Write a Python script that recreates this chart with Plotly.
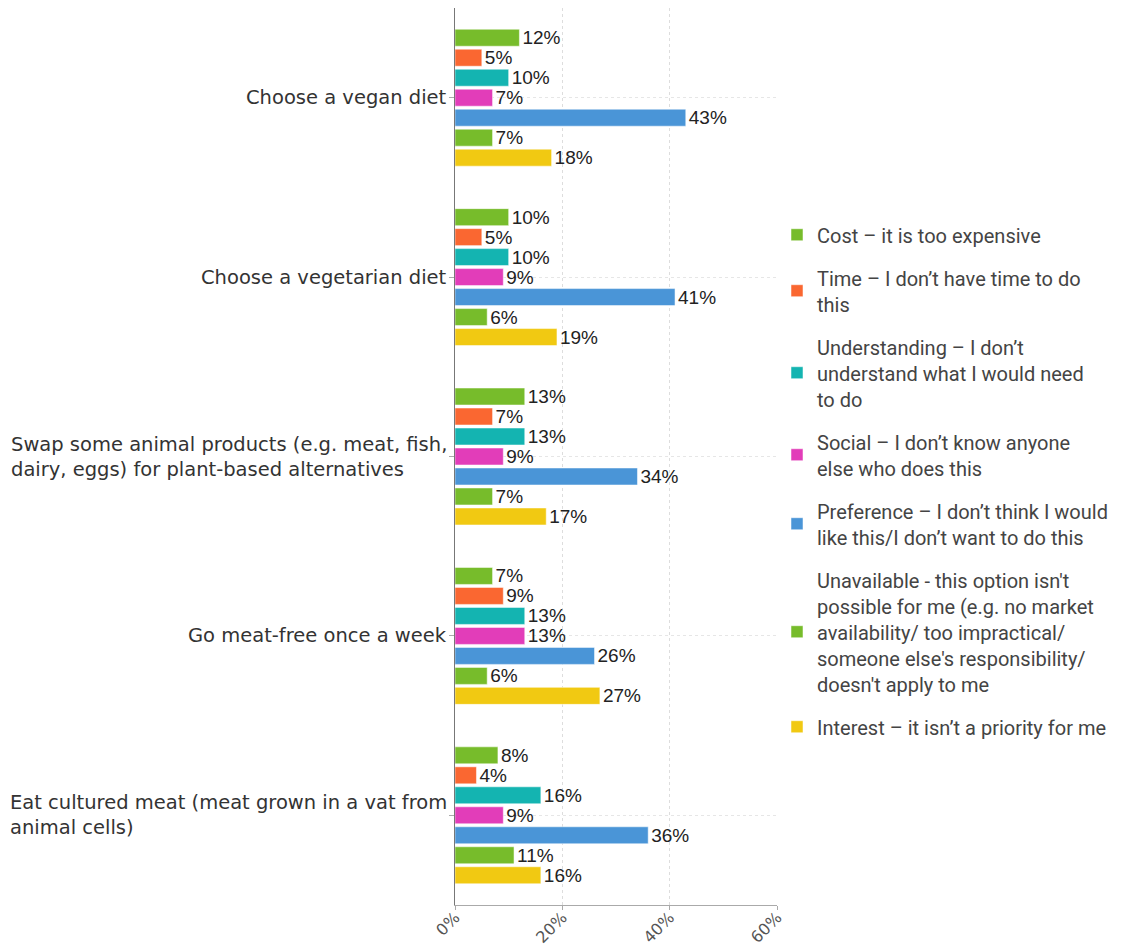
import plotly.graph_objects as go

categories = [
    "Choose a vegan diet",
    "Choose a vegetarian diet",
    "Swap some animal products (e.g. meat, fish,<br>dairy, eggs) for plant-based alternatives",
    "Go meat-free once a week",
    "Eat cultured meat (meat grown in a vat from<br>animal cells)",
]

series_names = [
    "Cost – it is too expensive",
    "Time – I don’t have time to do<br>this",
    "Understanding – I don’t<br>understand what I would need<br>to do",
    "Social – I don’t know anyone<br>else who does this",
    "Preference – I don’t think I would<br>like this/I don’t want to do this",
    "Unavailable - this option isn't<br>possible for me (e.g. no market<br>availability/ too impractical/<br>someone else's responsibility/<br>doesn't apply to me",
    "Interest – it isn’t a priority for me",
]

cost = [12, 10, 13, 7, 8]
time_ = [5, 5, 7, 9, 4]
understanding = [10, 10, 13, 13, 16]
social = [7, 9, 9, 13, 9]
preference = [43, 41, 34, 26, 36]
unavailable = [7, 6, 7, 6, 11]
interest = [18, 19, 17, 27, 16]

values = [cost, time_, understanding, social, preference, unavailable, interest]
colors = ["#77BC2B", "#FA6731", "#14B4B1", "#E23DB9", "#4A95D7", "#77BC2B", "#F1C912"]

fig = go.Figure()
for i, (name, vals, col) in enumerate(zip(series_names, values, colors)):
    fig.add_trace(go.Bar(
        y=categories, x=vals, name=name, orientation="h",
        marker=dict(color=col, line=dict(color="rgba(255,255,255,0.5)", width=1)),
        text=[f"{v}%" for v in vals], textposition="outside",
        constraintext="none",
        textfont=dict(family="Liberation Sans, Arial", size=19, color="#222"),
        cliponaxis=False, legendgroup=f"g{i}",
    ))

for c in categories:
    fig.add_annotation(
        x=0, xref="paper", y=c, yref="y", text=c, showarrow=False,
        xanchor="right", align="left", xshift=-6,
        font=dict(family="DejaVu Sans", size=19.5, color="#333"),
    )

fig.update_layout(
    width=1121, height=939,
    margin=dict(l=447, r=352, t=0, b=42, autoexpand=False),
    paper_bgcolor="white", plot_bgcolor="white",
    barmode="group", bargap=0.22, bargroupgap=0.15,
    showlegend=True,
    legend=dict(
        x=1.0, xanchor="left", y=0.473, yanchor="middle",
        traceorder="grouped", tracegroupgap=14,
        font=dict(family="Roboto", size=20, color="#444"),
        valign="middle",
    ),
    xaxis=dict(
        range=[0, 60], dtick=20, ticksuffix="%", automargin=False,
        showgrid=True, gridcolor="#DDDDDD", griddash="dot", gridwidth=1,
        showline=True, linecolor="#AAAAAA", linewidth=1,
        ticks="outside", ticklen=4, tickcolor="#AAAAAA",
        tickangle=-45, zeroline=False, ticklabelstandoff=-8,
        tickfont=dict(family="DejaVu Sans", size=16, color="#555"),
    ),
    yaxis=dict(
        autorange="reversed", showticklabels=False, automargin=False,
        showgrid=True, gridcolor="#E6E6E6", griddash="dot",
        showline=True, linecolor="#777777", linewidth=1,
        ticks="outside", ticklen=5, tickcolor="#AAAAAA",
    ),
)

fig.write_html("out.html")
